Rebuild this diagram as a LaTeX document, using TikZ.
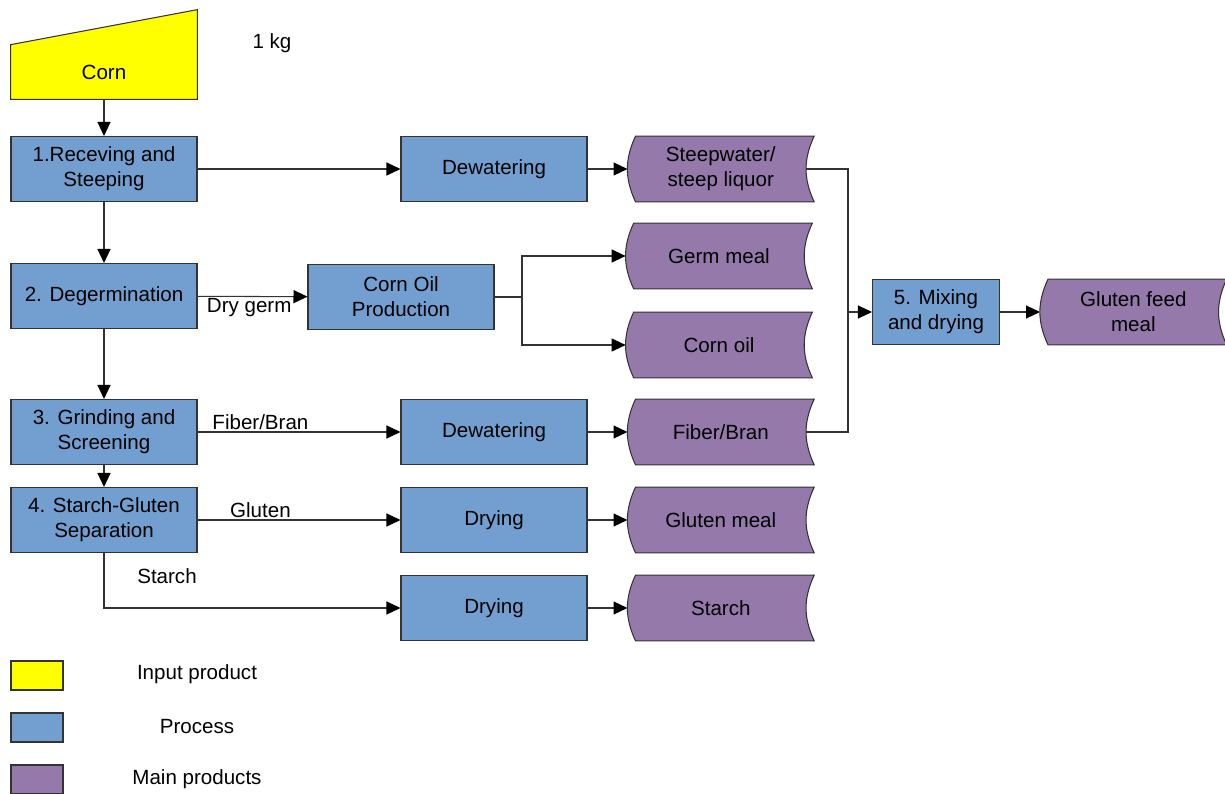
\documentclass[tikz,border=0pt]{standalone}
\usepackage{fontspec}
\setmainfont{Liberation Sans}
\usetikzlibrary{arrows.meta, positioning, calc, backgrounds}
\definecolor{inputyellow}{RGB}{255,255,0}
\definecolor{processblue}{RGB}{114,159,207}
\definecolor{productpurple}{RGB}{148,121,170}
\definecolor{edgegray}{RGB}{51,51,51}

\begin{document}
\begin{tikzpicture}[
    x=0.02cm, y=-0.02cm,
    font=\fontsize{11.7}{14.2}\selectfont,
    process/.style={rectangle, draw=edgegray, fill=processblue, line width=0.6pt, minimum width=3.72cm, minimum height=1.3cm, align=center, inner sep=1pt},
    product/.style={rectangle, minimum width=3.72cm, minimum height=1.3cm, align=center, inner sep=1pt},
    flow/.style={-{Triangle[length=2.8mm, width=2.6mm, color=black]}, line width=0.6pt, color=edgegray},
    link/.style={line width=0.6pt, color=edgegray},
    lbl/.style={inner sep=1pt, text=black},
    swatch/.style={rectangle, draw=edgegray, line width=0.6pt, minimum width=1.04cm, minimum height=0.58cm}
]
\useasboundingbox (0,0) rectangle (1225,794);
\node[product, minimum height=1.08cm] (corn) at (104,72) {Corn};
\node (weight) at (272,43) {1 kg};
\node[process] (receive) at (104,169) {1.Receving and\\Steeping};
\node[process] (degerm) at (104,296) {2. Degermination};
\node[process] (grind) at (104,432) {3. Grinding and\\Screening};
\node[process] (separate) at (104,520) {4. Starch-Gluten\\Separation};
\node[process] (dewater) at (494,169) {Dewatering};
\node[process] (oilprod) at (401,297) {Corn Oil\\Production};
\node[process] (dewaterfib) at (494,432) {Dewatering};
\node[process] (dryglu) at (494,520) {Drying};
\node[process] (drystarch) at (494,608) {Drying};
\node[product, right=0.8cm of dewater] (steep) {Steepwater/\\steep liquor};
\node[product] (germ) at (719,256) {Germ meal};
\node[product] (cornoil) at (719,345) {Corn oil};
\node[product, right=0.8cm of dewaterfib] (fiber) {Fiber/Bran};
\node[product, right=0.8cm of dryglu] (glutenmeal) {Gluten meal};
\node[product, right=0.8cm of drystarch] (starch) {Starch};
\node[process, minimum width=2.54cm] (mixing) at (936,312) {5. Mixing\\and drying};
\node[product, right=0.8cm of mixing] (feed) {Gluten feed\\meal};
\coordinate (split) at (522,297);
\coordinate (join) at (848,312);
% legend
\node[swatch, fill=inputyellow] (keyinput) at (37,675.5) {};
\node[swatch, fill=processblue] (keyprocess) at (37,727.5) {};
\node[swatch, fill=productpurple] (keyproduct) at (37,779.5) {};
\node[lbl] (txtinput) at (197,674) {Input product};
\node[lbl] (txtprocess) at (197,727) {Process};
\node[lbl] (txtproduct) at (197,779) {Main products};
% shapes behind the texts
\begin{scope}[on background layer]
\draw[fill=inputyellow, draw=edgegray, line width=0.6pt] (corn.south west) -- (corn.north west) -- ($(corn.north east)+(0,-35)$) -- (corn.south east) -- cycle;
\foreach \n in {steep, germ, cornoil, fiber, glutenmeal, starch, feed}{
  \draw[fill=productpurple, draw=edgegray, line width=0.6pt] ($(\n.north west)+(8,0)$) -- (\n.north east) to[bend right=25] (\n.south east) -- ($(\n.south west)+(8,0)$) to[bend left=25] ($(\n.north west)+(8,0)$) -- cycle;
}
\end{scope}
\draw[flow] (corn) -- (receive);
\draw[flow] (receive) -- (degerm);
\draw[flow] (degerm) -- (grind);
\draw[flow] (grind) -- (separate);
\draw[flow] (receive) -- (dewater);
\draw[flow] (dewater) -- (steep);
\draw[flow] (degerm) -- node[lbl, below, pos=0.47]{Dry germ} (oilprod);
\draw[link] (oilprod) -- (split);
\draw[flow] (split) |- (germ);
\draw[flow] (split) |- (cornoil);
\draw[flow] (grind) -- node[lbl, above, pos=0.31]{Fiber/Bran} (dewaterfib);
\draw[flow] (dewaterfib) -- (fiber);
\draw[flow] (separate) -- node[lbl, above, pos=0.31]{Gluten} (dryglu);
\draw[flow] (dryglu) -- (glutenmeal);
\draw[flow] (separate) |- (drystarch);
\node[lbl] (starchlbl) at (167,576) {Starch};
\draw[flow] (drystarch) -- (starch);
\draw[link] ($(steep.east)+(-8,0)$) -| (join);
\draw[link] ($(fiber.east)+(-8,0)$) -| (join);
\draw[flow] (join) -- (mixing);
\draw[flow] (mixing) -- (feed);
\end{tikzpicture}
\end{document}
